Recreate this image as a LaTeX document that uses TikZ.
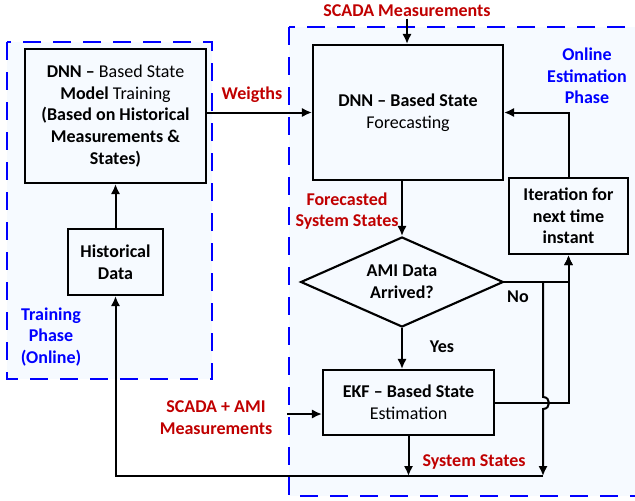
\documentclass[tikz,border=0pt]{standalone}
\usepackage{fontspec}
\setmainfont{Carlito}
\usepackage{xcolor}
\usepackage{tikz}
\usetikzlibrary{shapes.geometric, arrows.meta, positioning, calc}

\definecolor{lblred}{RGB}{192,0,0}
\definecolor{phasefill}{RGB}{246,250,255}
\newcommand{\dfont}{\fontsize{13.5}{16.3}\selectfont}

\begin{document}
\begin{tikzpicture}[
  x=0.75pt, y=-0.75pt,
  font=\dfont,
  box/.style={
    rectangle, draw, line width=1.6pt,
    align=center, inner sep=2pt, font=\dfont\bfseries
  },
  decision/.style={
    diamond, draw, line width=1.6pt, aspect=2.2, inner sep=0pt,
    minimum width=152pt, minimum height=67.5pt,
    align=center, font=\dfont\bfseries
  },
  phase/.style={
    draw=blue, fill=phasefill, line width=2.2pt,
    dash pattern=on 13.5pt off 9pt
  },
  redlbl/.style={text=lblred, align=center, font=\dfont\bfseries},
  bluelbl/.style={text=blue, align=center, font=\dfont\bfseries},
  arrow/.style={-{Latex[length=7.5pt, width=7pt]}, line width=1.5pt}
]
\useasboundingbox (0,0) rectangle (635,500);

% ---- Phase frames ----
\draw[phase] (7,42) rectangle (212,379);
\draw[phase] (289,27) rectangle (648,496);

% ---- Training phase ----
\node[box, minimum width=135.75pt, minimum height=100.5pt]
             (train) at (115.5,116) {DNN -- \mdseries Based State\\
               Model \mdseries Training\\(Based on Historical\\
               Measurements \&\\States)};
\node[box, minimum width=71.25pt, minimum height=49.5pt]
             (hist)  at (115.5,262) {Historical\\Data};
\node[bluelbl] (trainlbl) at (51,337) {Training\\Phase\\(Online)};

% ---- Online estimation phase ----
\node[box, minimum width=142.5pt, minimum height=101.25pt]
             (fcast) at (408,112.5) {DNN -- Based State\\\mdseries Forecasting};
\node[box, minimum width=89.25pt, minimum height=57pt]
             (iter)  at (568.5,216) {Iteration for\\next time\\instant};
\node[decision] (dia) at (402,282) {AMI Data\\Arrived?};
\node[box, minimum width=128.25pt, minimum height=48.75pt]
             (ekf)   at (408.5,402.5) {EKF -- Based State\\\mdseries Estimation};
\node[bluelbl] (onlinelbl) at (587,76) {Online\\Estimation\\Phase};

% ---- Labels ----
\node[redlbl, inner sep=1pt] (scada) at (407,11) {SCADA Measurements};
\node[redlbl] (weights)  at (252,95)  {Weigths};
\node[redlbl] (fstates)  at (347,211) {Forecasted\\System States};
\node[redlbl] (amilbl)   at (216,418) {SCADA + AMI\\Measurements};
\node[redlbl] (sstates)  at (474,462) {System States};
\node[font=\dfont\bfseries] (yes) at (442,347) {Yes};
\node[font=\dfont\bfseries] (no)  at (518,297) {No};

\coordinate (amiin)  at (287,414);
\coordinate (split)  at (543,282);
\coordinate (bottom) at (543,476);

% ---- Arrows ----
\draw[arrow] (hist) -- (train);
\draw[arrow] (train.east |- fcast.west) -- (fcast.west);
\draw[arrow] (scada.south) -- (scada.south |- fcast.north);
\draw[arrow] (dia.north |- fcast.south) -- (dia.north);
\draw[arrow] (dia.south) -- (dia.south |- ekf.north);
\draw[arrow] (amiin) -- (amiin -| ekf.west);
\draw[arrow] (iter.north) |- (fcast.east);

\draw[arrow] (dia.east) -| (iter.south);
\draw[arrow] (ekf.east) -| (iter.south);

% no-branch drops down, hopping over the EKF output
\draw[arrow] (split) -- (543,397)
  .. controls (551,397) and (551,409) .. (543,409) -- (bottom);
\draw[arrow] (ekf.south) -- (ekf.south |- bottom);
\draw[arrow] (bottom) -| (hist.south);

\end{tikzpicture}
\end{document}
